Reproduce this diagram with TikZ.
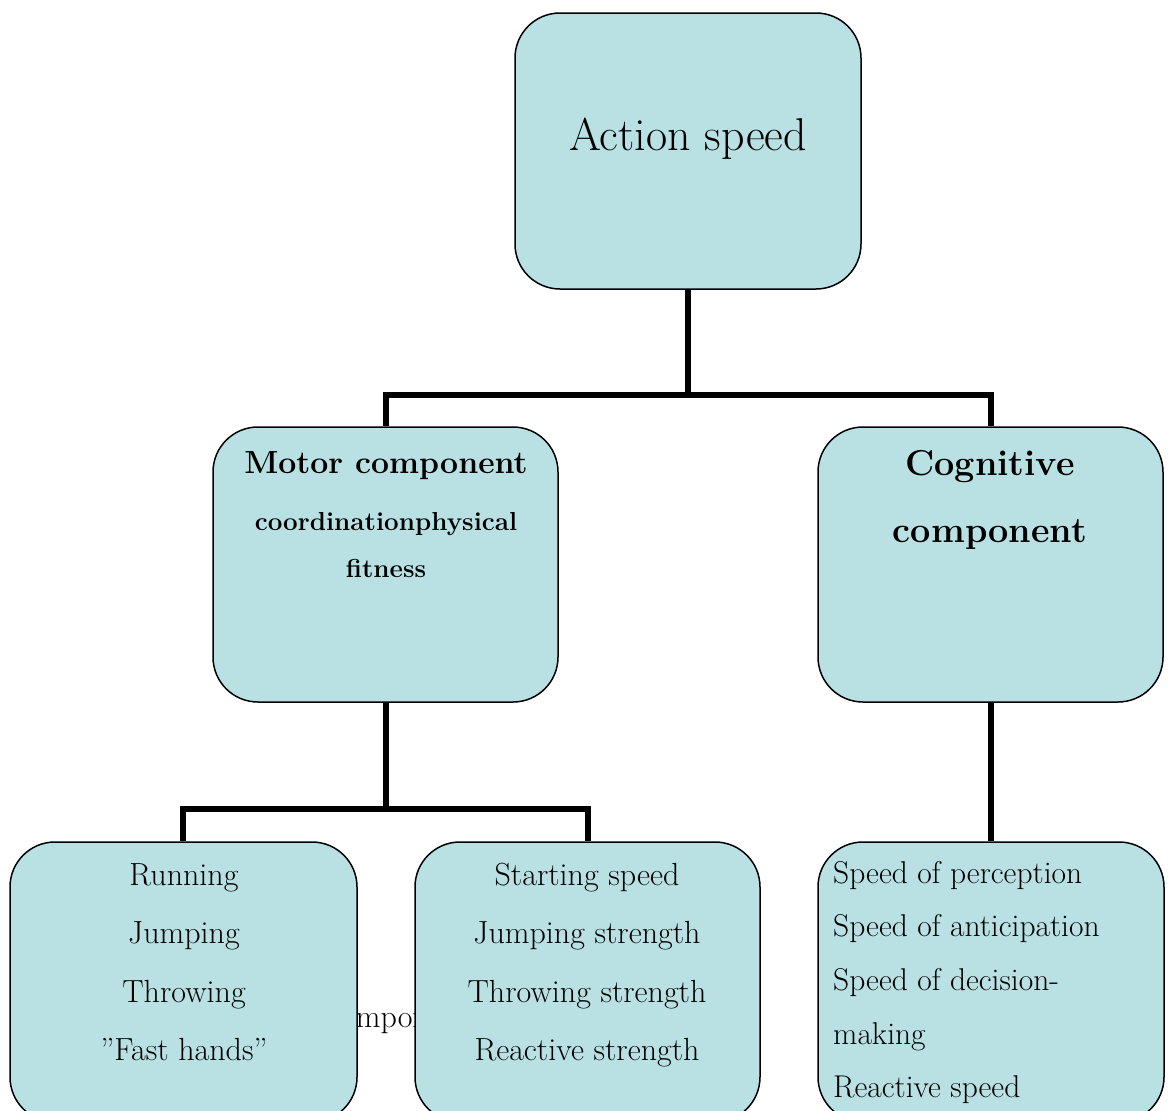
\documentclass[tikz,border=0pt]{standalone}
\usetikzlibrary{positioning}
\definecolor{boxfill}{RGB}{185,224,227}

\begin{document}
\begin{tikzpicture}[x=1pt,y=-1pt]
\tikzstyle{every node}+=[inner sep=0pt]
\tikzstyle{box}=[draw=black, line width=1.5pt, fill=boxfill, rounded corners=45pt]
\tikzstyle{link}=[draw=black, line width=6pt]
\tikzstyle{item}=[anchor=base, font=\fontsize{32}{38}\selectfont]
\tikzstyle{sitem}=[anchor=base west, font=\fontsize{31.5}{37}\selectfont]
\useasboundingbox (0,0) rectangle (1168,1111);

% word mostly covered by the two lower boxes
\node[anchor=base west, font=\fontsize{32}{38}\selectfont] (hidden) at (328,1027) {component};

% boxes
\node[box, minimum width=346pt, minimum height=276pt] (action) at (688,151) {};
\node[box, minimum width=345pt, minimum height=275pt] (motor) at (385.5,564.5) {};
\node[box, minimum width=345pt, minimum height=275pt] (cognitive) at (990.5,564.5) {};
\node[box, minimum width=347pt, minimum height=280pt] (running) at (183.5,982) {};
\node[box, minimum width=345pt, minimum height=280pt] (starting) at (587.5,982) {};
\node[box, minimum width=346pt, minimum height=280pt] (percept) at (991,982) {};

% connectors
\coordinate (top fork) at (688,395);
\coordinate (motor fork) at (385.5,809);
\draw[link] (action.south) -- (top fork);
\draw[link] (motor.north) |- (top fork) -| (cognitive.north);
\draw[link] (motor.south) -- (motor fork);
\draw[link] (running.north -| 183,0) |- (motor fork) -| (starting.north);
\draw[link] (cognitive.south) -- (cognitive.south |- percept.north);

% texts
\node[anchor=base, font=\fontsize{46}{52}\selectfont] (action text) at (688,150) {Action speed};
\node[anchor=base, font=\fontsize{32}{38}\bfseries] (motor title) at (386,473) {Motor component};
\node[anchor=base, font=\fontsize{26}{31}\bfseries] (motor sub1) at (386,530) {coordinationphysical};
\node[anchor=base, font=\fontsize{26}{31}\bfseries] (motor sub2) at (386,577) {fitness};
\node[anchor=base, font=\fontsize{36}{42}\bfseries] (cog title1) at (990,475) {Cognitive};
\node[anchor=base, font=\fontsize{36}{42}\bfseries] (cog title2) at (990,542) {component};

\foreach \txt [count=\i from 0] in {Running, Jumping, Throwing, {''Fast hands''}}
  \node[item] (run\i) at (184,885+58.5*\i) {\txt};
\foreach \txt [count=\i from 0] in {Starting speed, Jumping strength, Throwing strength, Reactive strength}
  \node[item] (start\i) at (587,885+58.5*\i) {\txt};
\foreach \txt [count=\i from 0] in {Speed of perception, Speed of anticipation, Speed of decision-, making, Reactive speed}
  \node[sitem] (speed\i) at (833,883+53.7*\i) {\txt};
\end{tikzpicture}
\end{document}
